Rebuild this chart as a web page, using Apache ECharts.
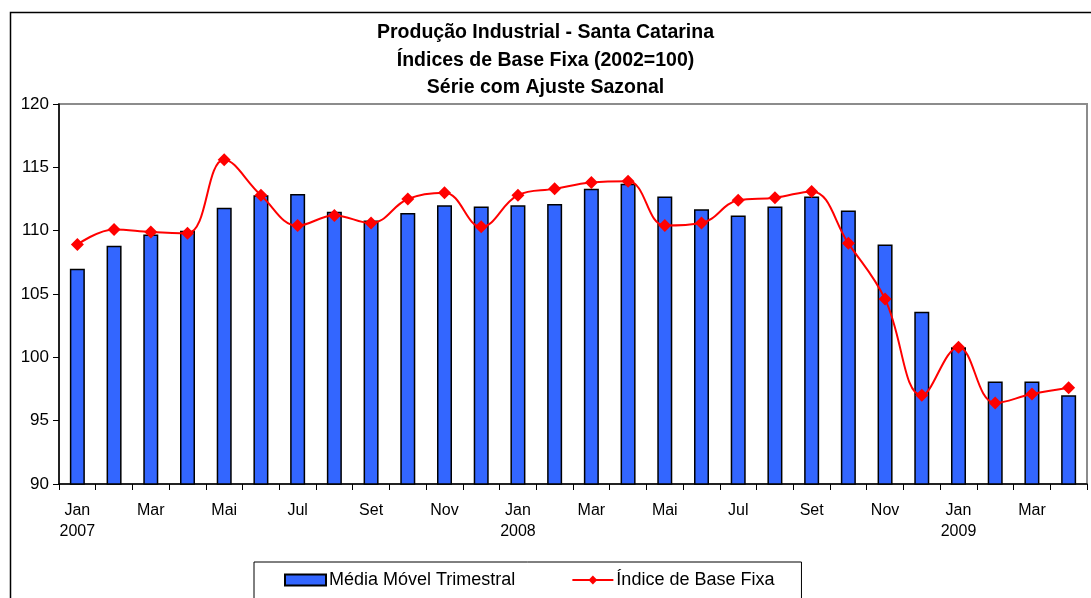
<!DOCTYPE html>
<html>
<head>
<meta charset="utf-8">
<script src="https://cdn.jsdelivr.net/npm/echarts@6/dist/echarts.min.js"></script>
<style>
  html, body { margin: 0; padding: 0; background: #fff; }
  #chart { width: 1091px; height: 598px; }
</style>
</head>
<body>
<div id="chart"></div>
<script>
// meses jan/2007 .. abr/2009
var months = ['Jan\n2007', 'Fev', 'Mar', 'Abr', 'Mai', 'Jun', 'Jul', 'Ago', 'Set', 'Out', 'Nov', 'Dez',
              'Jan\n2008', 'Fev', 'Mar', 'Abr', 'Mai', 'Jun', 'Jul', 'Ago', 'Set', 'Out', 'Nov', 'Dez',
              'Jan\n2009', 'Fev', 'Mar', 'Abr'];

var mediaMovel = [107.0, 108.8, 109.7, 110.0, 111.8, 112.8, 112.9, 111.5, 110.8, 111.4, 112.0, 111.9,
                  112.0, 112.1, 113.3, 113.7, 112.7, 111.7, 111.2, 111.9, 112.7, 111.6, 108.9, 103.6,
                  100.8, 98.1, 98.1, 97.0];

var indiceBase = [108.9, 110.1, 109.9, 109.8, 115.6, 112.8, 110.4, 111.2, 110.6, 112.5, 113.0, 110.3,
                  112.8, 113.3, 113.8, 113.9, 110.4, 110.6, 112.4, 112.6, 113.1, 109.0, 104.6, 97.0,
                  100.8, 96.4, 97.1, 97.6];

var titleLines = ['Produção Industrial - Santa Catarina', 'Índices de Base Fixa (2002=100)', 'Série com Ajuste Sazonal'];

var FONT = '"Liberation Sans", Arial, sans-serif';

var chart = echarts.init(document.getElementById('chart'));

var option = {
    animation: false,
    backgroundColor: '#fff',
    textStyle: { fontFamily: FONT, color: '#000' },
    graphic: [{
        type: 'rect',
        shape: { x: 10.5, y: 12.5, width: 1100, height: 600 },
        style: { fill: 'none', stroke: '#000', lineWidth: 1.5 },
        silent: true
    }],
    title: {
        text: titleLines.join('\n'),
        left: 'center',
        top: 19,
        padding: 0,
        textStyle: { fontFamily: FONT, fontSize: 19.5, fontWeight: 'bold', color: '#000', lineHeight: 27.5 }
    },
    legend: {
        top: 562,
        left: 254,
        padding: [9, 27, 30, 30],
        borderColor: '#000',
        borderWidth: 1,
        itemGap: 56,
        itemWidth: 41,
        itemHeight: 11,
        textStyle: { fontFamily: FONT, fontSize: 18, color: '#000', padding: [0, 0, 0, -2] },
        data: [
            { name: 'Média Móvel Trimestral', icon: 'rect' },
            { name: 'Índice de Base Fixa' }
        ]
    },
    grid: {
        left: 59,
        right: 4,
        top: 104,
        bottom: 114,
        show: true,
        borderColor: '#8c8c8c',
        borderWidth: 2
    },
    xAxis: {
        type: 'category',
        data: months,
        boundaryGap: true,
        axisLine: { lineStyle: { color: '#000', width: 1.5 } },
        axisTick: { show: true, interval: 0, alignWithLabel: false, length: 6, lineStyle: { color: '#000' } },
        axisLabel: {
            interval: 1,
            margin: 16,
            fontSize: 16,
            lineHeight: 21,
            color: '#000',
            fontFamily: FONT
        }
    },
    yAxis: {
        type: 'value',
        min: 90,
        max: 120,
        interval: 5,
        splitLine: { show: false },
        axisLine: { show: true, lineStyle: { color: '#000', width: 1.5 } },
        axisTick: { show: true, length: 6, lineStyle: { color: '#000' } },
        axisLabel: { fontSize: 17, color: '#000', margin: 10, fontFamily: FONT }
    },
    series: [
        {
            name: 'Média Móvel Trimestral',
            type: 'bar',
            data: mediaMovel,
            barWidth: 15,
            itemStyle: { color: '#3366ff', borderColor: '#000', borderWidth: 1.5 }
        },
        {
            name: 'Índice de Base Fixa',
            type: 'line',
            data: indiceBase,
            smooth: 0.4,
            symbol: 'diamond',
            symbolSize: 13,
            lineStyle: { color: '#ff0000', width: 2 },
            itemStyle: { color: '#ff0000' }
        }
    ]
};

chart.setOption(option);
</script>
</body>
</html>
